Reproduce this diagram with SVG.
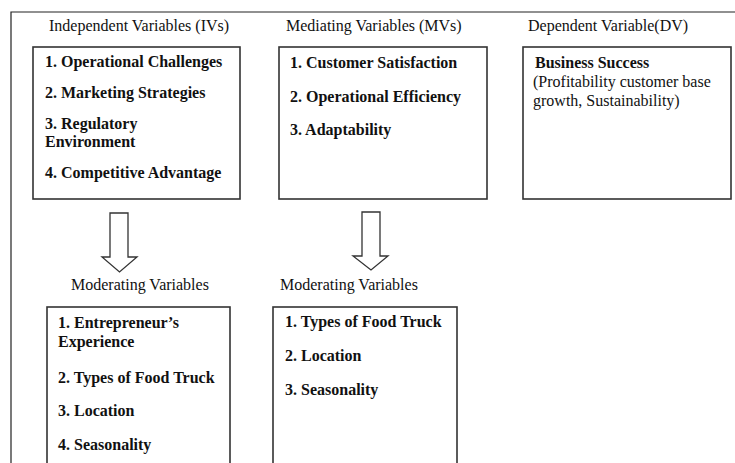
<svg xmlns="http://www.w3.org/2000/svg" width="735" height="463" viewBox="0 0 735 463">
  <style>
    .frame { fill: none; stroke: #222; stroke-width: 1.2; }
    .box { fill: #fff; stroke: #333; stroke-width: 1.6; }
    .head { font-family: "Liberation Serif", "Times New Roman", serif; font-size: 16px; fill: #111; }
    .item { font-family: "Liberation Serif", "Times New Roman", serif; font-size: 16px; font-weight: bold; fill: #111; }
    .arrow { fill: #fff; stroke: #333; stroke-width: 1.3; stroke-linejoin: miter; }
  </style>
  <rect width="735" height="463" fill="#fff"/>

  <!-- outer frame (top and left edges) -->
  <path class="frame" d="M11,463 V12 H735"/>

  <!-- column headings -->
  <text class="head" x="49" y="31">Independent Variables (IVs)</text>
  <text class="head" x="286" y="31">Mediating Variables (MVs)</text>
  <text class="head" x="528" y="31">Dependent Variable(DV)</text>

  <g id="independent-variables">
    <rect class="box" x="33" y="47" width="207" height="152"/>
    <text class="item" x="45" y="67">1. Operational Challenges</text>
    <text class="item" x="45" y="98">2. Marketing Strategies</text>
    <text class="item" x="45" y="129">3. Regulatory</text>
    <text class="item" x="45" y="147">Environment</text>
    <text class="item" x="45" y="178">4. Competitive Advantage</text>
  </g>

  <g id="mediating-variables">
    <rect class="box" x="279" y="47" width="208" height="152"/>
    <text class="item" x="290" y="68">1. Customer Satisfaction</text>
    <text class="item" x="290" y="102">2. Operational Efficiency</text>
    <text class="item" x="290" y="135">3. Adaptability</text>
  </g>

  <g id="dependent-variable">
    <rect class="box" x="523" y="47" width="208" height="152"/>
    <text class="item" x="535" y="68">Business Success</text>
    <text class="head" x="533" y="87">(Profitability customer base</text>
    <text class="head" x="533" y="106">growth, Sustainability)</text>
  </g>

  <g id="connectors">
    <path class="arrow" d="M110,213 H128 V257 H137 L119.5,272 L102,257 H110 Z"/>
    <path class="arrow" d="M362,212 H380 V256 H388 L371,270 L353,256 H362 Z"/>
  </g>

  <g id="moderating-variables-1">
    <text class="head" x="71" y="290">Moderating Variables</text>
    <rect class="box" x="47" y="307" width="183" height="170"/>
    <text class="item" x="58" y="328">1. Entrepreneur’s</text>
    <text class="item" x="58" y="347">Experience</text>
    <text class="item" x="58" y="383">2. Types of Food Truck</text>
    <text class="item" x="58" y="416">3. Location</text>
    <text class="item" x="58" y="450">4. Seasonality</text>
  </g>

  <g id="moderating-variables-2">
    <text class="head" x="280" y="290">Moderating Variables</text>
    <rect class="box" x="273" y="307" width="184" height="170"/>
    <text class="item" x="285" y="327">1. Types of Food Truck</text>
    <text class="item" x="285" y="361">2. Location</text>
    <text class="item" x="285" y="395">3. Seasonality</text>
  </g>
</svg>
